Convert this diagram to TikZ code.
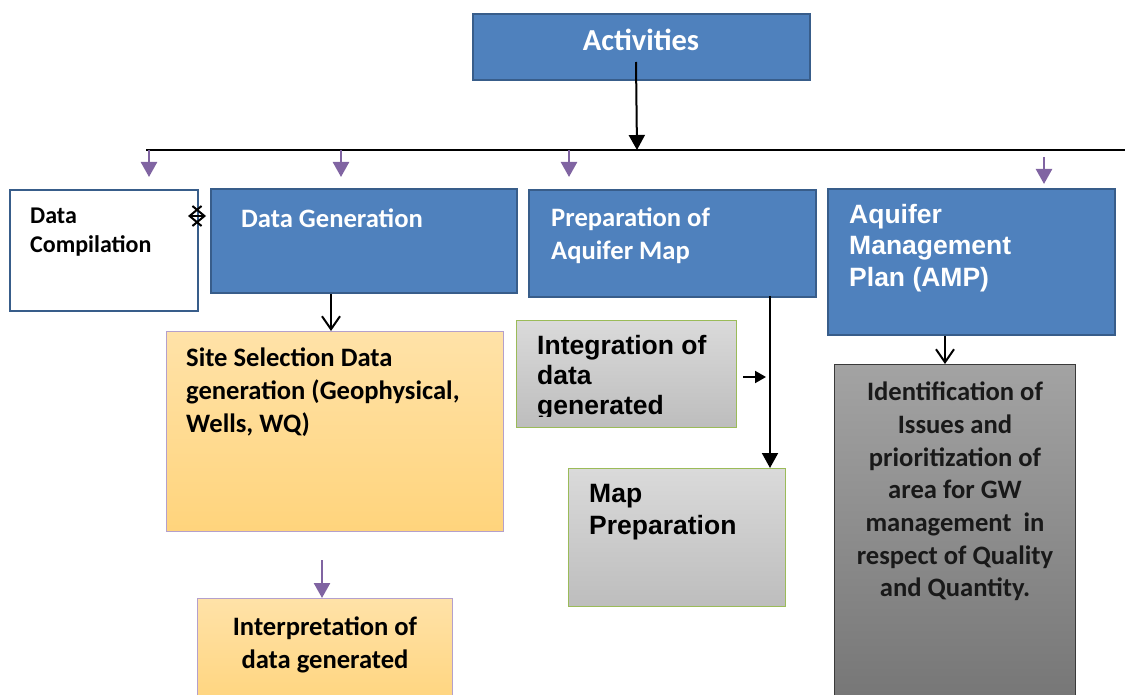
\documentclass[tikz,border=0pt]{standalone}
\usepackage{fontspec}
\setmainfont{Carlito}
\newfontfamily\arialf{Liberation Sans}
\usetikzlibrary{arrows.meta}
\definecolor{boxblue}{HTML}{4F81BD}
\definecolor{boxedge}{HTML}{385D8A}
\definecolor{purp}{HTML}{8064A2}
\definecolor{orgtop}{HTML}{FFE2A8}
\definecolor{orgbot}{HTML}{FFD47C}
\definecolor{orgedge}{HTML}{B4A0CC}
\definecolor{grytop}{HTML}{DADADA}
\definecolor{grybot}{HTML}{BDBDBD}
\definecolor{grnedge}{HTML}{9BBB59}
\definecolor{dgtop}{HTML}{A3A3A3}
\definecolor{dgbot}{HTML}{757575}
\definecolor{dgedge}{HTML}{3A3A3A}
\begin{document}
\begin{tikzpicture}[x=1pt,y=-1pt,
  boxbase/.style={rectangle, inner sep=0pt, anchor=north west},
  bluebox/.style={boxbase, draw=boxedge, line width=2pt, fill=boxblue},
  whitebox/.style={boxbase, draw=boxedge, line width=2pt, fill=white},
  orangebox/.style={boxbase, draw=orgedge, line width=1.3pt, top color=orgtop, bottom color=orgbot},
  graybox/.style={boxbase, draw=grnedge, line width=1.3pt, top color=grytop, bottom color=grybot},
  darkbox/.style={boxbase, draw=dgedge, line width=1.3pt, top color=dgtop, bottom color=dgbot},
  txt/.style={inner sep=0pt, font=\bfseries\fontsize{26.6}{33}\selectfont},
  wtxt/.style={txt, text=white},
  atxt/.style={inner sep=0pt, font=\arialf\bfseries\fontsize{26.5}{31.5}\selectfont},
  blackarrow/.style={draw=black, line width=2pt, -{Triangle[length=15pt,width=16pt]}},
  openarrow/.style={draw=black, line width=2pt, -{Straight Barb[length=13pt,width=18pt,line width=2pt]}},
  purparrow/.style={draw=purp, line width=2.5pt, -{Triangle[length=15pt,width=16pt]}},
  plainline/.style={draw=black, line width=2.5pt}
]
\useasboundingbox (0,0) rectangle (1125,695);

% boxes
\node[bluebox, minimum width=337, minimum height=66] (act) at (472,13) {};
\node[whitebox, minimum width=188, minimum height=121] (dc) at (9,189) {};
\node[bluebox, minimum width=306, minimum height=104] (dg) at (210,188) {};
\node[bluebox, minimum width=287, minimum height=107] (pam) at (528,189) {};
\node[bluebox, minimum width=287, minimum height=146] (amp) at (827,188) {};
\node[orangebox, minimum width=337, minimum height=200] (ssd) at (166,331) {};
\node[orangebox, minimum width=255, minimum height=110] (itp) at (197,598) {};
\node[graybox, minimum width=220, minimum height=107] (integ) at (516,320) {};
\node[graybox, minimum width=217, minimum height=138] (mapp) at (568,468) {};
\node[darkbox, minimum width=241, minimum height=345] (ident) at (834,364) {};

% texts
\node[wtxt, font=\bfseries\fontsize{30.5}{36}\selectfont] (t-act) at (641,40) {Activities};
\node[txt, anchor=west, align=left, font=\bfseries\fontsize{24}{29}\selectfont] (t-dc) at (30,232) {Data\\Compilation};
\node[wtxt, anchor=west] (t-dg) at (241,218) {Data Generation};
\node[wtxt, anchor=west, align=left] (t-pam) at (551,236) {Preparation of\\Aquifer Map};
\node[atxt, text=white, anchor=west, align=left] (t-amp) at (849,248) {Aquifer\\Management\\Plan (AMP)};
\node[txt, anchor=west, align=left] (t-ssd) at (186,392) {Site Selection Data\\generation (Geophysical,\\Wells, WQ)};
\node[txt, align=center] (t-itp) at (325,644.5) {Interpretation of\\data generated};
\begin{scope}
  \clip (517,321) rectangle (735,416);
  \node[atxt, anchor=west, align=left, font=\arialf\bfseries\fontsize{26.5}{30}\selectfont] (t-integ) at (537,378) {Integration of\\data\\generated};
\end{scope}
\node[atxt, anchor=west, align=left, font=\arialf\bfseries\fontsize{26.5}{32}\selectfont] (t-mapp) at (589,512) {Map\\Preparation};
\node[txt, align=center, text=black!90, font=\bfseries\fontsize{26.6}{32.7}\selectfont] (t-ident) at (955,491.5) {Identification of\\Issues and\\prioritization of\\area for GW\\management~ in\\respect of Quality\\and Quantity.};

% connector coordinates
\coordinate (actsrc) at (636,62);
\coordinate (busL) at (146,150);
\coordinate (busR) at (1125,150);
\coordinate (busM) at (637,150);
\coordinate (p1s) at (149,150);  \coordinate (p1e) at (149,177);
\coordinate (p2s) at (341,150);  \coordinate (p2e) at (341,177);
\coordinate (p3s) at (569,150);  \coordinate (p3e) at (569,177);
\coordinate (p4s) at (1044,157); \coordinate (p4e) at (1044,184);
\coordinate (dblL) at (188,216); \coordinate (dblR) at (206,216);
\coordinate (pamout) at (770,296);
\coordinate (joinpt) at (766,377);

% connectors
\draw[plainline] (busL) -- (busR);
\draw[blackarrow] (actsrc) -- (busM);
\draw[purparrow] (p1s) -- (p1e);
\draw[purparrow] (p2s) -- (p2e);
\draw[purparrow] (p3s) -- (p3e);
\draw[purparrow] (p4s) -- (p4e);
\draw[line width=2pt, {Straight Barb[length=12pt,width=20pt,line width=2pt]}-{Straight Barb[length=12pt,width=20pt,line width=2pt]}] (dblL) -- (dblR);
\draw[openarrow] (dg.south -| 331,0) -- (ssd.north -| 331,0);
\draw[openarrow] (amp.south -| 945,0) -- (ident.north -| 945,0);
\draw[purparrow] (322,560) -- (itp.north -| 322,0);
\draw[blackarrow] (pamout) -- (mapp.north -| 770,0);
\draw[draw=black, line width=2pt, -{Triangle[length=11pt,width=12pt]}] (743,377) -- (joinpt);
\end{tikzpicture}
\end{document}
